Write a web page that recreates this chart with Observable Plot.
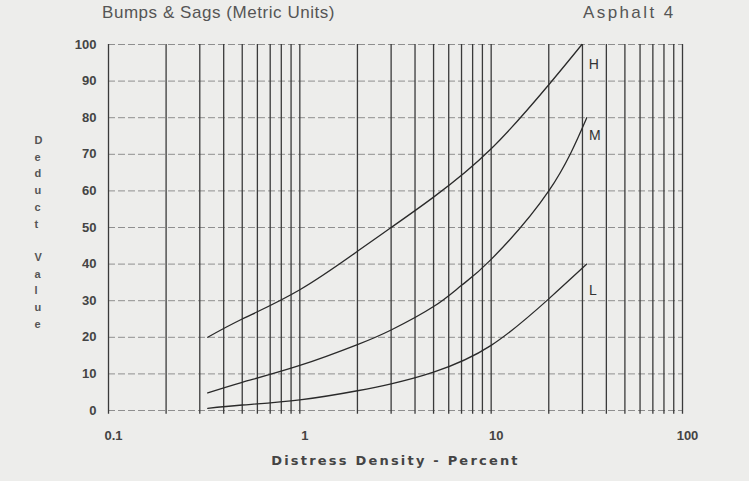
<!DOCTYPE html>
<html>
<head>
<meta charset="utf-8">
<script src="https://cdn.jsdelivr.net/npm/d3@7"></script>
<script src="https://cdn.jsdelivr.net/npm/@observablehq/plot@0.6"></script>
<style>
  html, body { margin: 0; padding: 0; background: #ededeb; }
  #wrap { position: relative; width: 749px; height: 481px; overflow: hidden; font-family: "Liberation Sans", Arial, sans-serif; }
  #title { position: absolute; left: 102px; top: 3px; font-size: 17px; letter-spacing: 0.55px; color: #555; }
  #sub { position: absolute; left: 583px; top: 3px; font-size: 17px; letter-spacing: 2.4px; color: #555; }
  #chart { position: absolute; left: 0; top: 30px; }
  #chart .xlab { font-family: "DejaVu Sans", sans-serif; font-weight: bold; letter-spacing: 2.2px; }
</style>
</head>
<body>
<div id="wrap">
  <div id="title">Bumps &amp; Sags (Metric Units)</div>
  <div id="sub">Asphalt 4</div>
  <div id="chart"></div>
</div>
<script>
const hX = [0.33, 0.5, 1, 2, 3, 5, 10, 20, 29.8];
const hY = [20, 25, 33, 43.5, 50, 58.3, 71.5, 89, 100];
const mX = [0.33, 0.5, 1, 2, 3, 5, 7, 10, 20, 31.6];
const mY = [4.8, 7.7, 12.3, 18, 22, 28.4, 34.2, 41.3, 60, 80];
const lX = [0.33, 0.5, 1, 2, 3, 5, 10, 20, 31.6];
const lY = [0.6, 1.5, 2.9, 5.4, 7.3, 10.5, 17.8, 30.5, 40];
const seriesNames = ["H", "M", "L"];
const gridX = [0.1, 0.2, 0.3, 0.4, 0.5, 0.6, 0.7, 0.8, 0.9, 1, 2, 3, 4, 5, 6, 7, 8, 9, 10, 20, 30, 40, 50, 60, 70, 80, 90, 100];
const gridY = [0, 10, 20, 30, 40, 50, 60, 70, 80, 90, 100];
const xTicks = [0.1, 1, 10, 100];
const xLabel = "Distress Density - Percent";
const yLabel = "Deduct Value";

const series = [[hX, hY], [mX, mY], [lX, lY]].map(([xs, ys], i) =>
  xs.map((x, j) => ({name: seriesNames[i], x, y: ys[j]})));
const data = series.flat();
const ends = series.map(s => s[s.length - 1]);
const labelOffsets = {H: [12, 20], M: [8, 18], L: [6, 26]};

const chart = Plot.plot({
  width: 749,
  height: 451,
  marginLeft: 108,
  marginRight: 67,
  marginTop: 14,
  marginBottom: 71,
  style: {background: "transparent", fontFamily: "Liberation Sans, Arial, sans-serif", color: "#333"},
  x: {type: "log", domain: [0.1, 100]},
  y: {domain: [0, 100]},
  marks: [
    Plot.ruleY(gridY, {x1: 0.1, x2: 100, stroke: "#8f8f8f", strokeWidth: 1, strokeDasharray: "7,3"}),
    Plot.ruleX(gridX, {y1: -1, y2: 100, stroke: "#3a3a3a", strokeWidth: 1.3}),
    Plot.line(data, {x: "x", y: "y", z: "name", curve: "natural", stroke: "#2a2a2a", strokeWidth: 1.3}),
    ...ends.map(e => Plot.text([e], {x: "x", y: "y", text: "name", dx: labelOffsets[e.name][0], dy: labelOffsets[e.name][1], fontSize: 14, fill: "#333"})),
    Plot.axisX({ticks: xTicks, tickFormat: d => String(d), tickSize: 0, tickPadding: 20, dx: 5, fontSize: 13, fontWeight: "bold", fill: "#444", label: null}),
    Plot.text([xLabel], {frameAnchor: "bottom", dy: 54, fontSize: 13, fill: "#444", className: "xlab"}),
    Plot.axisY({ticks: gridY, tickSize: 0, tickPadding: 12, fontSize: 13, fontWeight: "bold", fill: "#444", label: null}),
    Plot.text([yLabel.split("").join("\n")], {frameAnchor: "left", dx: -74, dy: 3, fontSize: 11, fontWeight: "bold", lineHeight: 1.52, fill: "#555"})
  ]
});
document.getElementById("chart").appendChild(chart);
</script>
</body>
</html>
